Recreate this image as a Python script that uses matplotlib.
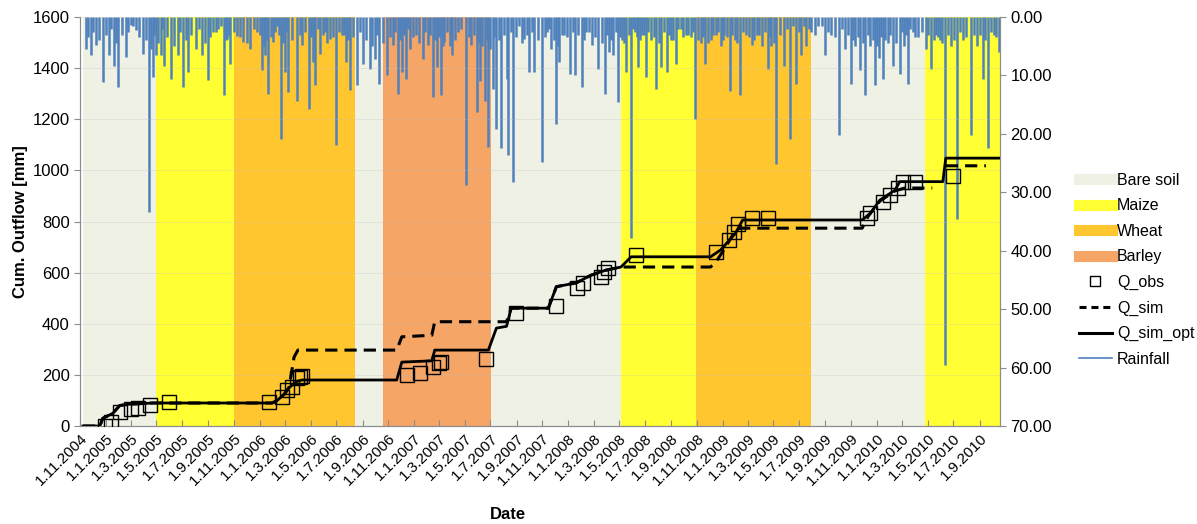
import pandas as pd
import matplotlib
matplotlib.use("Agg")
import matplotlib.pyplot as plt
from matplotlib.lines import Line2D

plt.rcParams['font.family'] = ['Liberation Sans', 'DejaVu Sans']

start = pd.Timestamp('2004-11-01')

# all x values are days since 1.11.2004
crop_names = ['Bare soil', 'Maize', 'Wheat', 'Barley']
crop_colors = {'Bare soil': '#EEF1E4', 'Maize': '#FFFF33', 'Wheat': '#FFC630', 'Barley': '#F5A566'}
crop_start = [7, 181, 365, 651, 718, 974, 1281, 1458, 1730, 2000]
crop_end = [181, 365, 651, 718, 974, 1281, 1458, 1730, 2000, 2178]
crop_type = ['Bare soil', 'Maize', 'Wheat', 'Bare soil', 'Barley', 'Bare soil',
             'Maize', 'Wheat', 'Bare soil', 'Maize']

obs_day = [59, 73, 94, 120, 137, 165, 212, 448, 479, 491, 502, 514, 521, 526,
           774, 804, 837, 849, 856, 962, 1033, 1128, 1177, 1191, 1234, 1241, 1250,
           1316, 1505, 1536, 1548, 1557, 1592, 1630,
           1864, 1871, 1901, 1918, 1937, 1949, 1977, 2067]
obs_val = [0, 16, 55, 68, 70, 82, 94, 94, 113, 140, 153, 188, 192, 196,
           200, 207, 231, 246, 250, 261, 442, 469, 540, 559, 583, 603, 618,
           669, 681, 728, 759, 790, 814, 814,
           814, 833, 876, 903, 931, 955, 955, 978]

opt_day = [7, 47, 54, 78, 94, 113, 149, 172, 455, 467, 484, 495, 514, 526, 750, 762,
           833, 840, 967, 986, 1010, 1021, 1109, 1128, 1175, 1210, 1246, 1281, 1305,
           1493, 1517, 1552, 1569, 1852, 1871, 1894, 1930, 1941, 2043, 2050, 2175]
opt_val = [0, 0, 30, 50, 80, 85, 88, 90, 90, 100, 125, 150, 175, 180, 180, 250,
           255, 297, 297, 383, 390, 461, 461, 545, 560, 590, 610, 622, 662,
           662, 689, 754, 806, 806, 832, 884, 923, 956, 956, 1048, 1048]

sim_day = [7, 47, 54, 78, 94, 113, 149, 172, 455, 467, 484, 495, 500, 507, 516, 750,
           762, 833, 840, 1010, 1021, 1109, 1128, 1175, 1210, 1246, 1281, 1493, 1505,
           1529, 1552, 1564, 1852, 1866, 1894, 1930, 1953, 2018, 2034, 2050, 2145]
sim_val = [0, 0, 30, 50, 80, 85, 88, 90, 90, 100, 125, 150, 200, 270, 297, 297,
           349, 355, 408, 408, 461, 461, 545, 560, 590, 610, 622, 622, 640,
           700, 767, 774, 774, 820, 880, 920, 931, 931, None, 1018, 1018]

# larger rain events
rain_day = [14, 26, 38, 54, 68, 80, 90, 109, 120, 132, 149, 163, 172, 179, 191, 198,
            215, 231, 245, 255, 274, 290, 302, 316, 328, 340, 349, 356, 373, 387,
            403, 420, 432, 439, 446, 458, 467, 477, 486, 493, 514, 526, 543, 552,
            557, 569, 580, 592, 606, 620, 630, 639, 656, 670, 686, 698, 708, 727,
            741, 753, 762, 771, 781, 795, 812, 823, 835, 845, 854, 863, 875, 882,
            894, 913, 927, 939, 946, 958, 967, 977, 984, 998, 1010, 1014, 1026,
            1040, 1052, 1064, 1076, 1095, 1106, 1116, 1128, 1135, 1146, 1161, 1172,
            1189, 1198, 1213, 1227, 1243, 1253, 1262, 1274, 1283, 1293, 1305, 1314,
            1321, 1330, 1340, 1352, 1364, 1375, 1389, 1399, 1411, 1422, 1434, 1446,
            1456, 1470, 1481, 1493, 1505, 1517, 1526, 1538, 1550, 1562, 1576, 1590,
            1602, 1614, 1628, 1637, 1649, 1666, 1682, 1696, 1708, 1720, 1732, 1748,
            1765, 1779, 1798, 1812, 1826, 1835, 1847, 1859, 1871, 1883, 1892, 1901,
            1913, 1925, 1941, 1951, 1960, 1972, 1984, 2003, 2015, 2026, 2036, 2048,
            2062, 2076, 2090, 2109, 2123, 2137, 2151, 2163, 2175]
rain_mm = [5.4, 6.5, 4.8, 11.1, 6.5, 8.3, 12.0, 6.9, 1.4, 2.3, 6.3, 33.4, 10.3, 6.5,
           6.5, 8.3, 10.6, 6.5, 12.0, 9.4, 5.4, 6.5, 10.8, 2.6, 2.0, 13.4, 3.8, 8.0,
           3.2, 4.3, 5.4, 2.6, 9.1, 6.5, 13.1, 4.3, 1.5, 20.8, 9.4, 12.9, 14.3, 4.8,
           15.7, 7.7, 11.6, 6.3, 2.5, 3.7, 21.9, 3.0, 7.7, 12.5, 11.6, 8.0, 8.9,
           7.1, 11.4, 10.0, 4.8, 13.1, 9.4, 10.6, 5.4, 3.0, 7.1, 4.8, 13.7, 8.5,
           13.4, 4.3, 5.0, 6.5, 2.5, 28.7, 4.8, 16.3, 11.0, 14.3, 22.3, 12.3, 19.1,
           22.5, 10.6, 23.6, 28.3, 1.5, 3.7, 9.4, 9.4, 24.8, 2.5, 5.4, 18.3, 7.7,
           3.0, 9.7, 10.0, 12.0, 2.5, 4.8, 8.9, 13.1, 6.0, 6.5, 14.6, 4.0, 9.4,
           37.8, 2.5, 8.6, 3.0, 10.3, 4.0, 12.3, 8.6, 9.4, 4.0, 8.0, 2.0, 3.0, 3.5,
           17.4, 4.5, 8.0, 4.0, 3.0, 5.0, 3.0, 12.6, 4.0, 13.4, 3.0, 4.8, 3.0, 5.0,
           8.9, 5.0, 25.1, 8.3, 20.8, 11.4, 6.5, 5.0, 2.5, 1.5, 6.5, 3.0, 20.2,
           5.5, 11.4, 5.0, 9.1, 13.4, 5.0, 11.6, 7.0, 10.6, 4.5, 8.3, 9.7, 5.0,
           11.4, 2.5, 3.5, 5.4, 8.9, 3.0, 4.0, 59.6, 5.0, 34.5, 4.0, 20.2, 5.0,
           10.6, 22.5, 3.0, 6.0]

# small rain days in between
rain_day_small = [20, 32, 46, 61, 74, 85, 99, 114, 126, 140, 156, 168, 176, 185, 195,
                  206, 223, 238, 250, 264, 282, 296, 309, 322, 334, 345, 353, 364, 380,
                  395, 411, 426, 436, 443, 452, 462, 472, 481, 490, 503, 520, 534, 548,
                  555, 563, 575, 586, 599, 613, 625, 635, 647, 663, 678, 692, 703, 717,
                  734, 747, 758, 767, 776, 788, 803, 818, 829, 840, 850, 859, 869, 879,
                  888, 903, 920, 933, 943, 952, 963, 972, 981, 991, 1004, 1020, 1033,
                  1046, 1058, 1070, 1085, 1101, 1111, 1122, 1132, 1141, 1153, 1167,
                  1180, 1194, 1206, 1220, 1235, 1248, 1258, 1268, 1279, 1288, 1299,
                  1310, 1318, 1326, 1335, 1346, 1358, 1370, 1382, 1394, 1405, 1417,
                  1428, 1440, 1451, 1463, 1476, 1487, 1499, 1511, 1522, 1532, 1544,
                  1556, 1569, 1583, 1596, 1608, 1621, 1633, 1643, 1657, 1674, 1689,
                  1702, 1714, 1726, 1740, 1756, 1772, 1788, 1805, 1819, 1831, 1841,
                  1853, 1865, 1877, 1888, 1897, 1907, 1919, 1933, 1946, 1956, 1966,
                  1978, 1993, 2009, 2021, 2031, 2042, 2055, 2069, 2083, 2099, 2116,
                  2130, 2144, 2157, 2169]
rain_mm_small = [3.5, 2.5, 4.0, 3.0, 2.0, 4.5, 3.0, 2.5, 1.5, 3.5, 4.0, 5.5, 3.0, 4.5,
                 2.0, 3.5, 5.0, 2.5, 4.0, 3.0, 2.0, 4.5, 3.5, 2.5, 1.5, 4.0, 3.0, 2.5,
                 3.5, 4.5, 2.0, 3.0, 5.0, 4.0, 3.5, 2.5, 3.0, 4.5, 2.5, 4.0, 3.0, 2.5,
                 3.5, 4.0, 2.0, 3.0, 4.5, 3.5, 2.5, 3.0, 4.0, 3.5, 2.5, 4.0, 5.0, 3.0,
                 4.5, 3.5, 2.5, 4.0, 3.0, 2.0, 3.5, 4.5, 2.5, 3.0, 4.0, 3.5, 5.0, 2.5,
                 3.0, 4.0, 2.0, 3.5, 3.0, 4.5, 5.0, 4.0, 5.5, 3.5, 4.0, 3.0, 2.5, 3.5,
                 4.5, 3.0, 2.5, 4.0, 3.5, 2.0, 4.0, 5.0, 3.0, 3.5, 2.5, 3.0, 4.0, 2.5,
                 3.5, 4.5, 3.0, 4.0, 2.5, 3.5, 4.5, 3.0, 2.0, 3.5, 4.0, 3.0, 2.5, 3.5,
                 4.5, 2.5, 3.0, 4.0, 2.0, 3.5, 3.0, 2.5, 4.0, 3.5, 4.5, 3.0, 2.5, 4.0,
                 3.5, 3.0, 4.5, 2.5, 3.5, 4.0, 3.0, 2.5, 3.5, 4.5, 3.0, 2.0, 1.5, 2.5,
                 1.5, 2.0, 3.0, 1.5, 2.5, 3.5, 2.0, 3.0, 4.0, 3.5, 4.5, 3.0, 4.0, 5.0,
                 3.5, 4.0, 3.0, 4.5, 2.5, 3.0, 2.0, 3.5, 2.5, 3.0, 4.0, 3.5, 4.5, 3.0,
                 4.0, 2.5, 3.5, 3.0, 3.0, 4.0, 2.5, 3.5]

tick_labels = ['1.11.2004', '1.1.2005', '1.3.2005', '1.5.2005', '1.7.2005', '1.9.2005',
               '1.11.2005', '1.1.2006', '1.3.2006', '1.5.2006', '1.7.2006', '1.9.2006',
               '1.11.2006', '1.1.2007', '1.3.2007', '1.5.2007', '1.7.2007', '1.9.2007',
               '1.11.2007', '1.1.2008', '1.3.2008', '1.5.2008', '1.7.2008', '1.9.2008',
               '1.11.2008', '1.1.2009', '1.3.2009', '1.5.2009', '1.7.2009', '1.9.2009',
               '1.11.2009', '1.1.2010', '1.3.2010', '1.5.2010', '1.7.2010', '1.9.2010']


def to_date(days):
    return [start + pd.Timedelta(days=d) for d in days]


fig = plt.figure(figsize=(11.97, 5.24), dpi=100)
ax = fig.add_axes([0.0668, 0.187, 0.7685, 0.7805])
ax2 = ax.twinx()

# crop periods and rainfall on the right axis, curves on top
for s, e, c in zip(crop_start, crop_end, crop_type):
    ax2.axvspan(start + pd.Timedelta(days=s), start + pd.Timedelta(days=e),
                color=crop_colors[c], lw=0, zorder=0)
ax2.vlines(to_date(rain_day_small), 0, rain_mm_small, color='#4F81BD', lw=1.8, zorder=2)
ax2.vlines(to_date(rain_day), 0, rain_mm, color='#4F81BD', lw=1.8, zorder=2)
ax2.set_ylim(70, 0)
ax2.set_yticks(range(0, 71, 10))
ax2.set_yticklabels(['%.2f' % v for v in range(0, 71, 10)])

ax.set_zorder(ax2.get_zorder() + 1)
ax.patch.set_visible(False)
for v in range(200, 1601, 200):
    ax.axhline(v, color='#bdbdbd', lw=0.6, alpha=0.3, zorder=1)

sim_y = [float('nan') if v is None else v for v in sim_val]
ax.plot(to_date(sim_day), sim_y, color='black', lw=2.2, dashes=(4, 2.3), zorder=3)
ax.plot(to_date(opt_day), opt_val, color='black', lw=2.0, zorder=4)
ax.plot(to_date(obs_day), obs_val, ls='none', marker='s', ms=10, mfc='none',
        mec='black', mew=1.0, zorder=5)

ax.set_xlim(start + pd.Timedelta(days=7), start + pd.Timedelta(days=2178))
ax.set_ylim(0, 1600)
ax.set_yticks(range(0, 1601, 200))
ticks = pd.to_datetime(tick_labels, format='%d.%m.%Y')
ax.set_xticks(ticks)
ax.set_xticklabels(tick_labels, rotation=45, ha='right', rotation_mode='anchor')

for a in (ax, ax2):
    for sp in a.spines.values():
        sp.set_color('#8c8c8c')
    a.spines['top'].set_visible(False)
ax.tick_params(axis='x', direction='in', length=4, color='#8c8c8c', labelsize=11, pad=4)
ax.tick_params(axis='y', direction='out', length=4, color='#8c8c8c', labelsize=12)
ax2.tick_params(axis='y', direction='out', length=4, color='#8c8c8c', labelsize=12)

ax.set_ylabel('Cum. Outflow [mm]', fontsize=12, fontweight='bold')
ax.yaxis.set_label_coords(-0.056, 0.5)
ax.set_xlabel('Date', fontsize=12, fontweight='bold')
ax.xaxis.set_label_coords(0.465, -0.197)

handles = [Line2D([], [], color=crop_colors[n], lw=8) for n in crop_names]
handles += [Line2D([], [], ls='none', marker='s', ms=7.5, mfc='none', mec='black', mew=1.0),
            Line2D([], [], color='black', lw=2.2, dashes=(2.3, 1.6)),
            Line2D([], [], color='black', lw=2.2),
            Line2D([], [], color='#4F81BD', lw=1.2)]
fig.legend(handles, crop_names + ['Q_obs', 'Q_sim', 'Q_sim_opt', 'Rainfall'],
           loc='center left', bbox_to_anchor=(0.889, 0.485), frameon=False,
           fontsize=11.5, handlelength=2.1, handletextpad=0.3, labelspacing=0.66)

fig.savefig('out.png', dpi=100)
